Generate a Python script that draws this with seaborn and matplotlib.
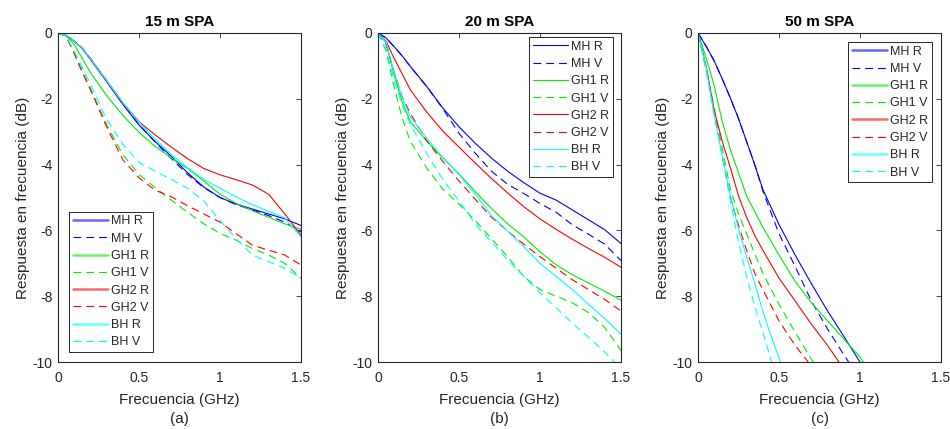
import matplotlib
matplotlib.use("Agg")
import matplotlib.pyplot as plt
import numpy as np
import pandas as pd
import seaborn as sns
from matplotlib.ticker import FormatStrFormatter

# ---------------- data ----------------
SERIES = ["MH R", "MH V", "GH1 R", "GH1 V", "GH2 R", "GH2 V", "BH R", "BH V"]
TITLES = ["15 m SPA", "20 m SPA", "50 m SPA"]
SUBCAPS = ["(a)", "(b)", "(c)"]
XTICKS = [0, 0.5, 1, 1.5]
YTICKS = [0, -2, -4, -6, -8, -10]

FREQ = [0, 0.05, 0.1, 0.15, 0.2, 0.3, 0.4, 0.5, 0.6, 0.7, 0.8, 0.9, 1.0, 1.1, 1.2, 1.3, 1.4, 1.5]

# 15 m SPA
a_MH_R = [0, -0.07, -0.25, -0.48, -0.8, -1.48, -2.17, -2.8, -3.3, -3.75, -4.25, -4.68, -5.0, -5.2, -5.35, -5.5, -5.65, -5.85]
a_MH_V = [0, -0.07, -0.25, -0.46, -0.77, -1.45, -2.14, -2.78, -3.32, -3.82, -4.3, -4.7, -5.0, -5.22, -5.38, -5.55, -5.75, -6.05]
a_GH1_R = [0, -0.08, -0.35, -0.78, -1.2, -1.9, -2.5, -3.02, -3.45, -3.8, -4.12, -4.5, -4.9, -5.18, -5.4, -5.6, -5.8, -5.97]
a_GH1_V = [0, -0.1, -0.6, -1.15, -1.68, -2.78, -3.7, -4.3, -4.7, -5.08, -5.45, -5.8, -6.09, -6.3, -6.55, -6.75, -7.0, -7.45]
a_GH2_R = [0, -0.07, -0.25, -0.47, -0.78, -1.45, -2.12, -2.7, -3.1, -3.47, -3.82, -4.12, -4.31, -4.46, -4.62, -4.9, -5.5, -6.15]
a_GH2_V = [0, -0.1, -0.62, -1.2, -1.72, -2.85, -3.85, -4.4, -4.78, -4.98, -5.25, -5.5, -5.75, -6.1, -6.45, -6.6, -6.75, -7.05]
a_BH_R = [0, -0.07, -0.25, -0.47, -0.78, -1.45, -2.12, -2.72, -3.22, -3.7, -4.1, -4.45, -4.72, -4.98, -5.22, -5.42, -5.62, -6.2]
a_BH_V = [0, -0.09, -0.55, -1.05, -1.55, -2.62, -3.38, -3.93, -4.2, -4.45, -4.72, -5.1, -5.7, -6.25, -6.75, -6.95, -7.15, -7.45]

# 20 m SPA
b_MH_R = [0, -0.15, -0.42, -0.7, -1.02, -1.62, -2.28, -2.85, -3.35, -3.8, -4.2, -4.55, -4.87, -5.08, -5.38, -5.68, -5.98, -6.4]
b_MH_V = [0, -0.15, -0.42, -0.7, -1.02, -1.62, -2.3, -3.05, -3.65, -4.2, -4.6, -4.88, -5.18, -5.45, -5.83, -6.12, -6.42, -6.92]
b_GH1_R = [0, -0.3, -1.3, -2.1, -2.7, -3.28, -3.8, -4.28, -4.82, -5.33, -5.8, -6.2, -6.65, -7.05, -7.35, -7.6, -7.85, -8.12]
b_GH1_V = [0, -0.55, -1.65, -2.6, -3.3, -4.1, -4.75, -5.2, -5.7, -6.25, -6.8, -7.4, -7.8, -8.0, -8.2, -8.5, -8.95, -9.65]
b_GH2_R = [0, -0.25, -0.78, -1.25, -1.73, -2.4, -2.98, -3.47, -3.95, -4.42, -4.86, -5.28, -5.65, -5.97, -6.27, -6.55, -6.82, -7.12]
b_GH2_V = [0, -0.35, -1.2, -1.95, -2.45, -3.27, -3.9, -4.5, -5.05, -5.6, -6.02, -6.42, -6.8, -7.15, -7.5, -7.8, -8.1, -8.45]
b_BH_R = [0, -0.28, -1.2, -1.98, -2.55, -3.2, -3.78, -4.3, -4.9, -5.55, -6.02, -6.5, -7.0, -7.4, -7.8, -8.25, -8.68, -9.15]
b_BH_V = [0, -0.5, -1.45, -2.2, -2.78, -3.65, -4.45, -5.1, -5.8, -6.35, -6.9, -7.4, -7.9, -8.35, -8.82, -9.25, -9.7, -10.2]

# 50 m SPA (each series has its own frequency samples)
c_MH_R_f = [0, 0.05, 0.1, 0.15, 0.2, 0.25, 0.3, 0.35, 0.4, 0.5, 0.6, 0.7, 0.8, 0.9, 1.0]
c_MH_R = [0, -0.4, -0.85, -1.4, -1.98, -2.6, -3.3, -4.0, -4.75, -5.82, -6.75, -7.62, -8.45, -9.22, -10.0]
c_MH_V_f = [0, 0.05, 0.1, 0.15, 0.2, 0.25, 0.3, 0.35, 0.4, 0.5, 0.6, 0.7, 0.8, 0.9, 0.93]
c_MH_V = [0, -0.4, -0.85, -1.4, -1.98, -2.6, -3.3, -4.0, -4.8, -6.1, -7.1, -8.15, -9.0, -9.78, -10.0]
c_GH1_R_f = [0, 0.05, 0.1, 0.15, 0.2, 0.25, 0.3, 0.4, 0.5, 0.6, 0.7, 0.8, 0.9, 1.0, 1.02]
c_GH1_R = [0, -0.75, -1.6, -2.7, -3.55, -4.25, -4.95, -5.9, -6.75, -7.55, -8.2, -8.75, -9.3, -9.85, -10.0]
c_GH1_V_f = [0, 0.05, 0.1, 0.15, 0.2, 0.25, 0.3, 0.4, 0.5, 0.6, 0.71]
c_GH1_V = [0, -1.05, -2.3, -3.5, -4.75, -5.5, -6.1, -7.3, -8.25, -9.1, -10.0]
c_GH2_R_f = [0, 0.05, 0.1, 0.15, 0.2, 0.25, 0.3, 0.35, 0.4, 0.5, 0.6, 0.7, 0.8, 0.87]
c_GH2_R = [0, -1.0, -2.35, -3.3, -4.1, -4.95, -5.6, -6.15, -6.6, -7.45, -8.15, -8.85, -9.5, -10.0]
c_GH2_V_f = [0, 0.05, 0.1, 0.15, 0.2, 0.25, 0.3, 0.35, 0.4, 0.5, 0.6, 0.68]
c_GH2_V = [0, -1.1, -2.4, -3.75, -5.0, -5.85, -6.6, -7.3, -7.8, -8.75, -9.5, -10.0]
c_BH_R_f = [0, 0.05, 0.1, 0.15, 0.2, 0.25, 0.3, 0.35, 0.4, 0.45, 0.51]
c_BH_R = [0, -1.05, -2.5, -3.75, -4.95, -5.95, -6.8, -7.6, -8.45, -9.2, -10.0]
c_BH_V_f = [0, 0.05, 0.1, 0.15, 0.2, 0.25, 0.3, 0.35, 0.4, 0.455]
c_BH_V = [0, -1.15, -2.5, -3.7, -5.1, -6.35, -7.4, -8.3, -9.1, -10.0]

# ---------------- assemble long-form table ----------------
panels = [
    {"MH R": (FREQ, a_MH_R), "MH V": (FREQ, a_MH_V), "GH1 R": (FREQ, a_GH1_R), "GH1 V": (FREQ, a_GH1_V),
     "GH2 R": (FREQ, a_GH2_R), "GH2 V": (FREQ, a_GH2_V), "BH R": (FREQ, a_BH_R), "BH V": (FREQ, a_BH_V)},
    {"MH R": (FREQ, b_MH_R), "MH V": (FREQ, b_MH_V), "GH1 R": (FREQ, b_GH1_R), "GH1 V": (FREQ, b_GH1_V),
     "GH2 R": (FREQ, b_GH2_R), "GH2 V": (FREQ, b_GH2_V), "BH R": (FREQ, b_BH_R), "BH V": (FREQ, b_BH_V)},
    {"MH R": (c_MH_R_f, c_MH_R), "MH V": (c_MH_V_f, c_MH_V), "GH1 R": (c_GH1_R_f, c_GH1_R),
     "GH1 V": (c_GH1_V_f, c_GH1_V), "GH2 R": (c_GH2_R_f, c_GH2_R), "GH2 V": (c_GH2_V_f, c_GH2_V),
     "BH R": (c_BH_R_f, c_BH_R), "BH V": (c_BH_V_f, c_BH_V)},
]
rows = []
for p, d in enumerate(panels):
    for s in SERIES:
        f, v = d[s]
        for fi, vi in zip(f, v):
            rows.append((p, s, fi, vi))
df = pd.DataFrame(rows, columns=["panel", "serie", "f", "dB"])

# ---------------- style ----------------
sns.set_theme(style="white")
plt.rcParams["font.family"] = ["Liberation Sans", "DejaVu Sans"]
plt.rcParams["axes.unicode_minus"] = False

PALETTE = {"MH R": "#0000ff", "MH V": "#0000ff", "GH1 R": "#00ee00", "GH1 V": "#00ee00",
           "GH2 R": "#ff0000", "GH2 V": "#ff0000", "BH R": "#00ffff", "BH V": "#00ffff"}
DASH = (7, 4.5)
DASHES = {s: ("" if s.endswith("R") else DASH) for s in SERIES}
GRAY = "#262626"

fig = plt.figure(figsize=(9.5, 4.29), dpi=100)
W, H = 950, 429
ax_w, ax_h = 243 / W, 329 / H
lefts = [58 / W, 378 / W, 698 / W]
bottom = (H - 362) / H

legend_pos = [
    dict(loc="lower left", bbox_to_anchor=(11 / 243, 10 / 329)),
    dict(loc="upper right", bbox_to_anchor=(1 - 8 / 243, 1 - 4 / 329)),
    dict(loc="upper right", bbox_to_anchor=(1 - 9 / 243, 1 - 9 / 329)),
]

for p in range(3):
    ax = fig.add_axes([lefts[p], bottom, ax_w, ax_h])
    sub = df[df["panel"] == p]
    sns.lineplot(data=sub, x="f", y="dB", hue="serie", style="serie",
                 hue_order=SERIES, style_order=SERIES, palette=PALETTE, dashes=DASHES,
                 estimator=None, sort=False, linewidth=0.8, ax=ax)
    ax.set_xlim(0, 1.5)
    ax.set_ylim(-10, 0)
    ax.set_xticks(XTICKS)
    ax.set_yticks(YTICKS)
    ax.xaxis.set_major_formatter(FormatStrFormatter("%g"))
    ax.yaxis.set_major_formatter(FormatStrFormatter("%g"))
    ax.tick_params(direction="in", top=True, right=True, length=3.5, width=0.6,
                   colors=GRAY, labelsize=10)
    ax.tick_params(axis="x", pad=6.5)
    ax.tick_params(axis="y", pad=4)
    for sp in ax.spines.values():
        sp.set_color(GRAY)
        sp.set_linewidth(0.8)
    ax.set_xlabel("Frecuencia (GHz)", fontsize=11, color=GRAY, labelpad=6)
    ax.set_ylabel("Respuesta en frecuencia (dB)", fontsize=11, color=GRAY, labelpad=2)
    ax.set_title(TITLES[p], fontsize=11, fontweight="bold", color="black", pad=5)
    ax.text(0.5, -57 / 329, SUBCAPS[p], transform=ax.transAxes, ha="center", va="center",
            fontsize=11, color=GRAY)
    sns.move_legend(ax, title=None, frameon=True, fancybox=False, framealpha=1,
                    fontsize=9, handlelength=2.8, handletextpad=0.25, labelspacing=0.42,
                    borderpad=0.3, borderaxespad=0, **legend_pos[p])
    leg = ax.get_legend()
    leg.get_frame().set_edgecolor(GRAY)
    leg.get_frame().set_linewidth(0.7)
    for t in leg.get_texts():
        t.set_color(GRAY)
    if p != 1:
        # in panels (a) and (c) the solid legend samples look wider and lighter
        for h, t in zip(leg.legend_handles, leg.get_texts()):
            if t.get_text().endswith("R"):
                h.set_linewidth(1.8)
                h.set_alpha(0.6)

fig.savefig("out.png", dpi=100, facecolor="white")
